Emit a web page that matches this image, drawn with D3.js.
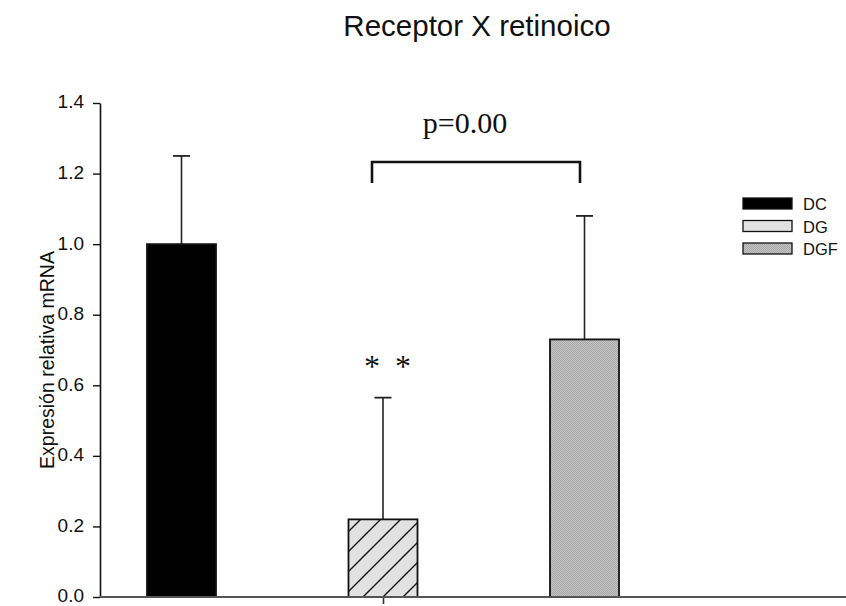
<!DOCTYPE html>
<html>
<head>
<meta charset="utf-8">
<script src="https://cdn.jsdelivr.net/npm/d3@7"></script>
<style>
  html, body { margin: 0; padding: 0; background: #fff; }
  svg { display: block; }
</style>
</head>
<body>
<svg id="chart" width="846" height="606"></svg>
<script>
// Relative RXR mRNA expression by group
const categories = ["DC", "DG", "DGF"];
const means = [1.0, 0.22, 0.73];
const errors = [0.25, 0.345, 0.35];
const yTicks = [0.0, 0.2, 0.4, 0.6, 0.8, 1.0, 1.2, 1.4];
const legendLabels = ["DC", "DG", "DGF"];
const titleText = "Receptor X retinoico";
const yLabelText = "Expresión relativa mRNA";
const pText = "p=0.00";

const svg = d3.select("#chart");
const W = 846;

const y = d3.scaleLinear().domain([0, 1.4]).range([597, 103]);
const x = d3.scalePoint().domain(categories).range([181.5, 584.5]);
const barW = 69;

// fills
const defs = svg.append("defs");
const hatch = defs.append("pattern")
  .attr("id", "hatch").attr("patternUnits", "userSpaceOnUse")
  .attr("width", 20).attr("height", 20);
hatch.append("rect").attr("width", 20).attr("height", 20).attr("fill", "#e2e2e2");
hatch.append("path").attr("d", "M-2,22 L22,-2 M-2,2 L2,-2 M18,22 L22,18")
  .attr("stroke", "#111").attr("stroke-width", 1.4);

const stipple = defs.append("pattern")
  .attr("id", "stipple").attr("patternUnits", "userSpaceOnUse")
  .attr("width", 2).attr("height", 2);
stipple.append("rect").attr("width", 2).attr("height", 2).attr("fill", "#c4c4c4");
stipple.append("rect").attr("width", 1).attr("height", 1).attr("fill", "#a8a8a8");
stipple.append("rect").attr("x", 1).attr("y", 1).attr("width", 1).attr("height", 1).attr("fill", "#a8a8a8");

const barFill = { DC: "#000", DG: "url(#hatch)", DGF: "url(#stipple)" };
const legendFill = { DC: "#000", DG: "#e2e2e2", DGF: "url(#stipple)" };

const sans = "Liberation Sans, Arial, sans-serif";
const serif = "Liberation Serif, Times New Roman, serif";

// title
svg.append("text")
  .attr("x", 477).attr("y", 36)
  .attr("text-anchor", "middle")
  .attr("font-family", sans)
  .attr("font-size", 29.5)
  .attr("fill", "#111")
  .text(titleText);

// y axis
const yAxis = svg.append("g")
  .attr("transform", "translate(100,0)")
  .call(d3.axisLeft(y).tickValues(yTicks).tickFormat(d3.format(".1f")).tickSize(7).tickSizeOuter(0).tickPadding(9));
yAxis.select(".domain").attr("stroke", "#111").attr("stroke-width", 1.6);
yAxis.selectAll(".tick line").attr("stroke", "#111").attr("stroke-width", 1.4);
yAxis.selectAll(".tick text")
  .attr("font-family", sans)
  .attr("font-size", 19)
  .attr("dy", "0.26em")
  .attr("fill", "#111");

// y label
svg.append("text")
  .attr("transform", "translate(54,360) rotate(-90)")
  .attr("text-anchor", "middle")
  .attr("font-family", sans)
  .attr("font-size", 19.5)
  .attr("fill", "#111")
  .text(yLabelText);

// error bars (upper only)
const eb = svg.append("g");
categories.forEach((c, i) => {
  const cx = x(c);
  eb.append("line")
    .attr("x1", cx).attr("x2", cx)
    .attr("y1", y(means[i])).attr("y2", y(means[i] + errors[i]))
    .attr("stroke", "#222").attr("stroke-width", 1.6);
  eb.append("line")
    .attr("x1", cx - 8.5).attr("x2", cx + 8.5)
    .attr("y1", y(means[i] + errors[i])).attr("y2", y(means[i] + errors[i]))
    .attr("stroke", "#222").attr("stroke-width", 1.8);
});

// bars
svg.append("g").selectAll("rect")
  .data(categories)
  .join("rect")
  .attr("x", d => x(d) - barW / 2)
  .attr("y", (d, i) => y(means[i]))
  .attr("width", barW)
  .attr("height", (d, i) => y(0) - y(means[i]))
  .attr("fill", d => barFill[d])
  .attr("stroke", "#111")
  .attr("stroke-width", 1.8);

// x axis baseline with a single centre tick
const xAxis = svg.append("g")
  .attr("transform", `translate(0,${y(0)})`)
  .call(d3.axisBottom(x).tickValues(["DG"]).tickFormat("").tickSize(7).tickSizeOuter(0));
xAxis.select(".domain").remove();
xAxis.selectAll(".tick line").attr("stroke", "#333").attr("stroke-width", 1.6);
svg.append("line")
  .attr("x1", 100).attr("x2", W)
  .attr("y1", y(0)).attr("y2", y(0))
  .attr("stroke", "#555").attr("stroke-width", 2);

// significance bracket between DG and DGF
const bx1 = 372, bx2 = 580, byTop = 162, byBot = 183;
svg.append("path")
  .attr("d", `M${bx1},${byBot} L${bx1},${byTop} L${bx2},${byTop} L${bx2},${byBot}`)
  .attr("fill", "none").attr("stroke", "#111").attr("stroke-width", 2.6);
svg.append("text")
  .attr("x", 465).attr("y", 133)
  .attr("text-anchor", "middle")
  .attr("font-family", serif)
  .attr("font-size", 30)
  .attr("fill", "#111")
  .text(pText);

// asterisks over DG
[372, 403].forEach(ax => {
  svg.append("text")
    .attr("x", ax).attr("y", 377)
    .attr("text-anchor", "middle")
    .attr("font-family", serif)
    .attr("font-size", 32)
    .attr("fill", "#111")
    .text("*");
});

// legend
const leg = svg.append("g");
legendLabels.forEach((lab, i) => {
  const ly = 198 + i * 22.5;
  leg.append("rect")
    .attr("x", 743).attr("y", ly)
    .attr("width", 49).attr("height", 11)
    .attr("fill", legendFill[lab])
    .attr("stroke", "#111").attr("stroke-width", 1.3);
  leg.append("text")
    .attr("x", 803).attr("y", ly + 12)
    .attr("font-family", sans)
    .attr("font-size", 16.5)
    .attr("fill", "#111")
    .text(lab);
});
</script>
</body>
</html>
